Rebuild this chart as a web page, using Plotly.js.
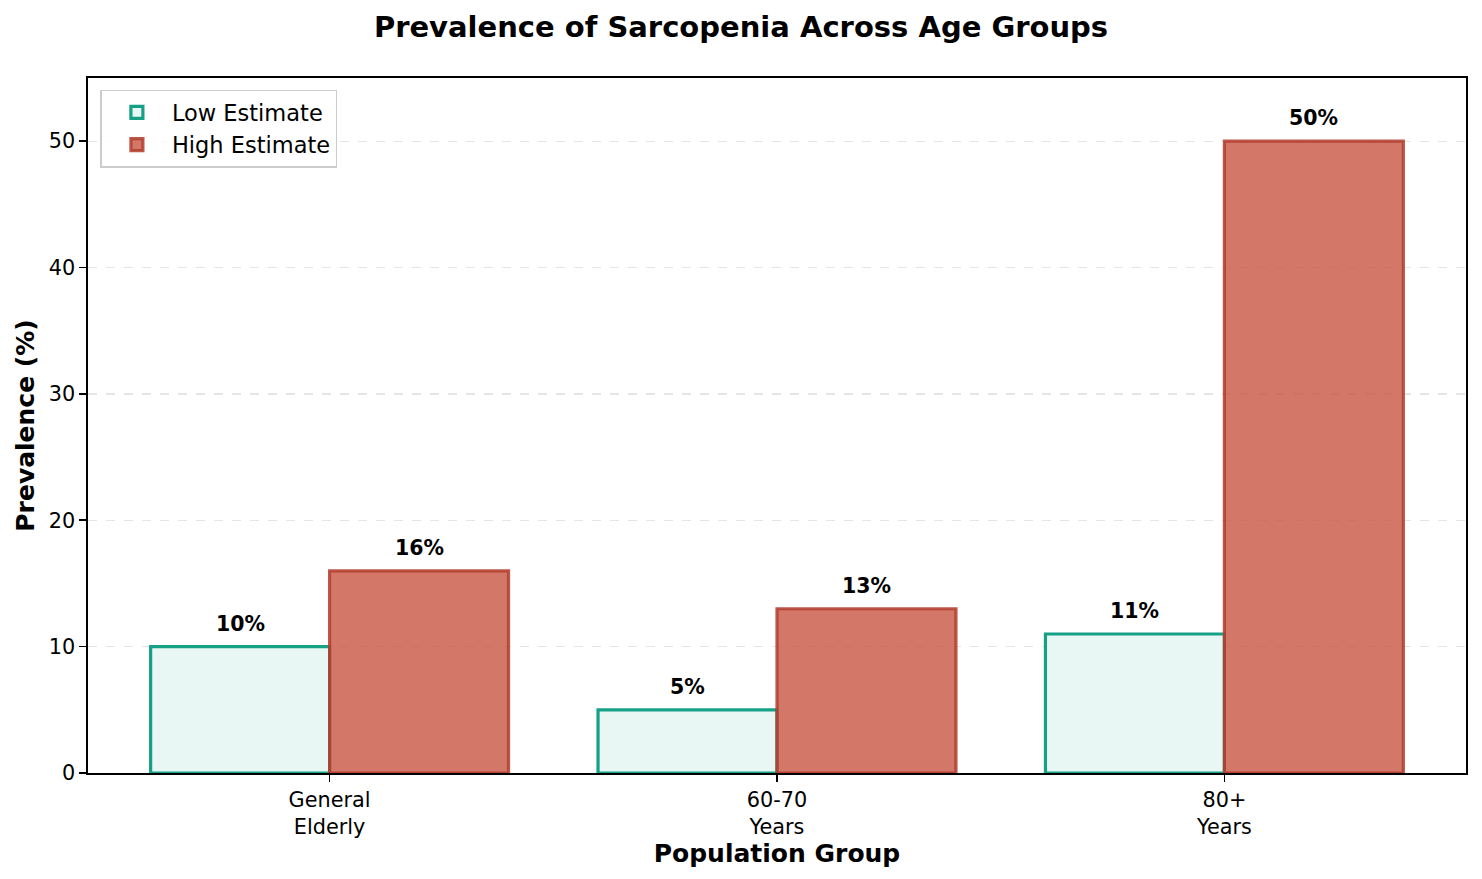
<!DOCTYPE html>
<html>
<head>
<meta charset="utf-8">
<script src="https://cdn.plot.ly/plotly-3.0.1.min.js"></script>
<style>
  html, body { margin: 0; padding: 0; background: #fff; }
  #chart { width: 1482px; height: 879px; }
</style>
</head>
<body>
<div id="chart"></div>
<script>
// Sarcopenia prevalence ranges by population group
const groups = ['General<br>Elderly', '60-70<br>Years', '80+<br>Years'];
const lowEstimate = [10, 5, 11];
const highEstimate = [16, 13, 50];
const seriesNames = ['Low Estimate', 'High Estimate'];

const font = 'DejaVu Sans, sans-serif';

const traces = [
  {
    type: 'bar',
    name: seriesNames[0],
    x: groups,
    y: lowEstimate,
    marker: { color: 'rgb(232,247,243)', line: { color: 'rgb(22,160,133)', width: 3.2 } },
    hoverinfo: 'y'
  },
  {
    type: 'bar',
    name: seriesNames[1],
    x: groups,
    y: highEstimate,
    marker: { color: 'rgba(200,85,67,0.8)', line: { color: 'rgba(178,60,44,0.85)', width: 3.2 } },
    hoverinfo: 'y'
  }
];

// value labels above each bar
const annotations = [];
[lowEstimate, highEstimate].forEach((vals, s) => {
  vals.forEach((v, i) => {
    annotations.push({
      x: i + (s === 0 ? -0.2 : 0.2),
      y: v,
      xref: 'x', yref: 'y',
      text: '<b>' + v + '%</b>',
      showarrow: false,
      yanchor: 'bottom',
      yshift: 9,
      font: { family: font, size: 20.5, color: '#000' }
    });
  });
});

const layout = {
  width: 1482,
  height: 879,
  paper_bgcolor: '#fff',
  plot_bgcolor: '#fff',
  margin: { l: 88, r: 16, t: 78, b: 106 },
  font: { family: font, size: 20.8, color: '#000' },
  title: {
    text: '<b>Prevalence of Sarcopenia Across Age Groups</b>',
    font: { family: font, size: 29, color: '#000' },
    x: 0.5, xanchor: 'center',
    y: 1 - 27 / 879, yanchor: 'middle'
  },
  barmode: 'group',
  bargap: 0.2,
  bargroupgap: 0,
  showlegend: true,
  legend: {
    x: 0.009, y: 0.983, xanchor: 'left', yanchor: 'top',
    bgcolor: 'rgba(255,255,255,0.8)',
    bordercolor: '#cccccc', borderwidth: 1.5,
    font: { family: font, size: 22.5, color: '#000' },
    itemwidth: 60,
    tracegroupgap: 2
  },
  xaxis: {
    type: 'category',
    range: [-0.54, 2.54],
    showline: true, linecolor: '#000', linewidth: 1.6, mirror: true,
    ticks: 'outside', ticklen: 7, tickwidth: 1.6, tickcolor: '#000',
    tickfont: { family: font, size: 20.8, color: '#000' },
    showgrid: false,
    zeroline: false,
    automargin: false,
    title: {
      text: '<b>Population Group</b>',
      font: { family: font, size: 25, color: '#000' },
      standoff: 6
    }
  },
  yaxis: {
    range: [0, 55],
    dtick: 10,
    showline: true, linecolor: '#000', linewidth: 1.6, mirror: true,
    ticks: 'outside', ticklen: 7, tickwidth: 1.6, tickcolor: '#000',
    tickfont: { family: font, size: 20.8, color: '#000' },
    showgrid: true, gridcolor: 'rgba(0,0,0,0.1)', griddash: 'dash', gridwidth: 1.2,
    zeroline: false,
    automargin: false,
    title: {
      text: '<b>Prevalence (%)</b>',
      font: { family: font, size: 25, color: '#000' },
      standoff: 7
    }
  },
  annotations: annotations
};

Plotly.newPlot('chart', traces, layout, { displayModeBar: false, staticPlot: true });
</script>
</body>
</html>
